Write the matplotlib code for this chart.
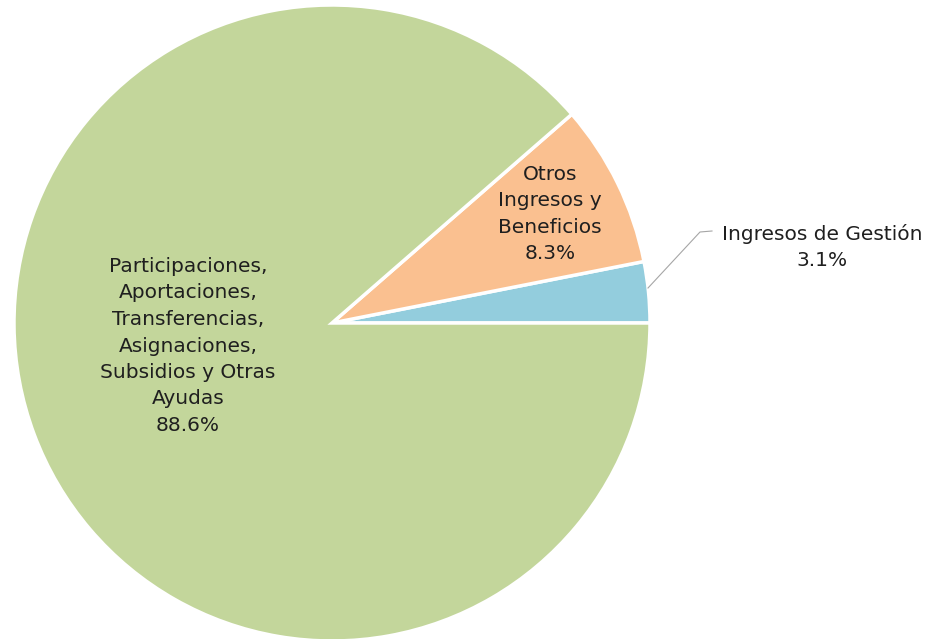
import matplotlib
matplotlib.use("Agg")
import matplotlib.pyplot as plt

categories = ["Ingresos de Gestión", "Otros\nIngresos y\nBeneficios",
              "Participaciones,\nAportaciones,\nTransferencias,\nAsignaciones,\nSubsidios y Otras\nAyudas"]
values = [3.1, 8.3, 88.6]
colors = ["#93CDDD", "#FAC090", "#C3D69B"]

W, H = 935, 639
fig = plt.figure(figsize=(W / 100, H / 100), dpi=100)
ax = fig.add_axes([0, 0, 1, 1])

cx, cy, r = 332, H - 323, 318
wedges, _ = ax.pie(values, colors=colors, startangle=0, counterclock=True,
                   center=(cx, cy), radius=r, frame=True,
                   wedgeprops=dict(edgecolor="white", linewidth=2.5))
ax.set_xlim(0, W)
ax.set_ylim(0, H)
ax.set_aspect("equal")
ax.axis("off")

font = dict(family=["DejaVu Sans"], fontsize=14.5, color="#1f1f1f",
            ha="center", va="center", linespacing=1.5)

ax.text(188, H - 346, categories[2] + "\n" + f"{values[2]:.1f}%", **font)
ax.text(550, H - 214, categories[1] + "\n" + f"{values[1]:.1f}%", **font)
ax.text(822, H - 247, categories[0] + "\n" + f"{values[0]:.1f}%", **font)

ax.plot([648, 700, 712], [H - 288, H - 232, H - 231], color="#a6a6a6", linewidth=0.8)

fig.savefig("out.png", dpi=100, facecolor="white")
